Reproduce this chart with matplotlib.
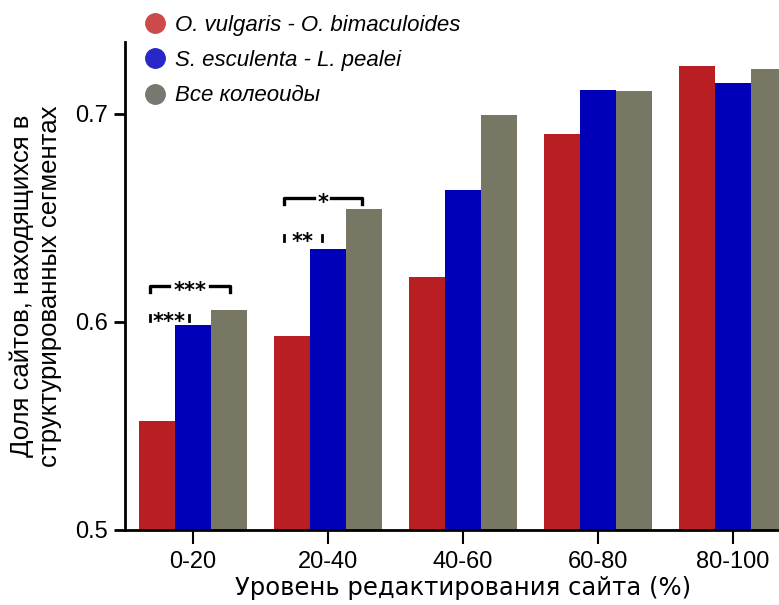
import matplotlib
matplotlib.use("Agg")
import matplotlib.pyplot as plt
import numpy as np

plt.rcParams['font.family'] = ['Liberation Sans', 'DejaVu Sans']

# данные
groups = ['0-20', '20-40', '40-60', '60-80', '80-100']
series_names = ['O. vulgaris - O. bimaculoides', 'S. esculenta - L. pealei', 'Все колеоиды']
octopus = [0.5524, 0.5933, 0.6216, 0.6904, 0.7230]
squid = [0.5986, 0.6351, 0.6635, 0.7115, 0.7149]
coleoids = [0.6058, 0.6543, 0.6995, 0.7110, 0.7216]

bar_colors = ['#B81E22', '#0000B8', '#777764']
marker_colors = ['#CC4A4A', '#2828C8', '#787870']

fig = plt.figure(figsize=(7.79, 6.05), dpi=100)
ax = fig.add_axes([0.1605, 0.124, 0.8395, 0.8066])

x = np.arange(len(groups))
w = 0.2667
for i, vals in enumerate([octopus, squid, coleoids]):
    ax.bar(x + (i - 1) * w, vals, width=w, color=bar_colors[i], linewidth=0, zorder=2)

ax.set_xlim(-0.504, 4.34)
ax.set_ylim(0.5, 0.7346)
ax.set_yticks([0.5, 0.6, 0.7])
ax.set_yticklabels(['0.5', '0.6', '0.7'])
ax.set_xticks(x)
ax.set_xticklabels(groups)

for s in ['top', 'right']:
    ax.spines[s].set_visible(False)
ax.spines['left'].set_linewidth(2)
ax.spines['bottom'].set_linewidth(2)
ax.tick_params(axis='y', length=8, width=2, labelsize=17, pad=4)
ax.tick_params(axis='x', length=10, width=1.5, labelsize=17, pad=5)

ax.set_xlabel('Уровень редактирования сайта (%)', fontsize=17.5, family='DejaVu Sans', labelpad=3)
ax.xaxis.set_label_coords(0.517, -0.095)
ax.set_ylabel('Доля сайтов, находящихся в\nструктурированных сегментах', fontsize=18.5,
              labelpad=10, linespacing=1.2)

# значимость: скобки и звёздочки
px = 0.1 / 208  # один пиксель по оси y


def stars(xc, y, label):
    ax.text(xc, y - 11 * px, label, ha='center', va='baseline', fontsize=15,
            fontweight='bold', family='DejaVu Sans', zorder=4)


def bracket(x0, x1, y, gap, label):
    h = 6 * px
    xc = (x0 + x1) / 2
    ax.plot([x0, x0, xc - gap], [y - h, y, y], color='black', lw=2.4, zorder=3)
    ax.plot([xc + gap, x1, x1], [y, y, y - h], color='black', lw=2.4, zorder=3)
    stars(xc, y, label)


def ticks_only(x0, x1, y, label):
    h = 6 * px
    for xx in (x0, x1):
        ax.plot([xx, xx], [y - h, y], color='black', lw=2, zorder=3)
    stars((x0 + x1) / 2, y - 2 * px, label)


ticks_only(-0.32, -0.03, 0.6034, '***')
bracket(-0.32, 0.27, 0.6173, 0.15, '***')
ticks_only(1 - 0.33, 1 - 0.045, 0.6418, '**')
bracket(1 - 0.33, 1 + 0.25, 0.6596, 0.065, '*')

handles = [plt.Line2D([], [], marker='o', ls='none', markersize=14, color=c) for c in marker_colors]
fig.legend(handles, series_names, loc='upper left', bbox_to_anchor=(0.1647, 0.99),
           frameon=False, prop={'style': 'italic', 'size': 16},
           handlelength=1.6, handletextpad=0.1, labelspacing=0.64, borderaxespad=0)

fig.savefig('out.png', dpi=100)
